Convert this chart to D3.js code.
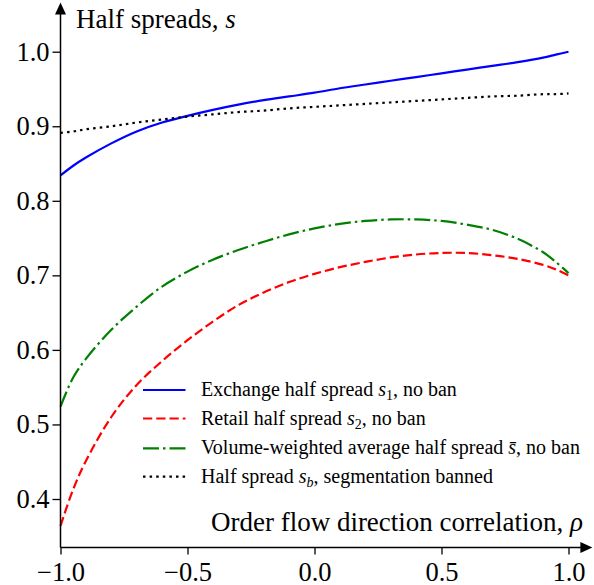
<!DOCTYPE html>
<html>
<head>
<meta charset="utf-8">
<script src="https://cdn.jsdelivr.net/npm/d3@7"></script>
<style>
  body { margin:0; background:#fff; }
  svg text { font-family: "Liberation Serif", "Times New Roman", Tinos, "DejaVu Serif", serif; fill:#000; }
</style>
</head>
<body>
<div class="viz"></div>
<script>
// values
var rho = [-1, -0.95, -0.9, -0.8, -0.7, -0.6, -0.5, -0.4, -0.3, -0.2, -0.1, 0,
           0.1, 0.2, 0.3, 0.4, 0.5, 0.6, 0.7, 0.8, 0.9, 0.95, 1]

var s1 = [0.834, 0.847, 0.858, 0.877, 0.893, 0.905, 0.914, 0.922, 0.929, 0.935, 0.940, 0.945,
          0.951, 0.956, 0.961, 0.966, 0.971, 0.976, 0.981, 0.986, 0.992, 0.996, 1.000]

var s2 = [0.364, 0.413, 0.451, 0.510, 0.553, 0.585, 0.613, 0.638, 0.660, 0.677, 0.691, 0.702,
          0.711, 0.718, 0.724, 0.728, 0.730, 0.730, 0.727, 0.722, 0.714, 0.708, 0.700]

var sbar = [0.524, 0.563, 0.588, 0.627, 0.658, 0.685, 0.705, 0.721, 0.734, 0.745, 0.755, 0.763,
            0.769, 0.773, 0.775, 0.775, 0.773, 0.768, 0.761, 0.749, 0.731, 0.718, 0.703]

var sb = [0.891, 0.893, 0.896, 0.900, 0.905, 0.909, 0.913, 0.916, 0.919, 0.921, 0.924, 0.926,
          0.928, 0.930, 0.932, 0.934, 0.936, 0.938, 0.940, 0.941, 0.943, 0.943, 0.944]

var xTicks = [-1.0, -0.5, 0.0, 0.5, 1.0]
var yTicks = [0.4, 0.5, 0.6, 0.7, 0.8, 0.9, 1.0]

var seriesNames = ["s1", "s2", "sbar", "sb"]

var width = 594, height = 585
var serif = '"Liberation Serif", "Times New Roman", Tinos, "DejaVu Serif", serif'

var x = d3.scaleLinear().domain([-1, 1]).range([60.5, 568.5])
var y = d3.scaleLinear().domain([0.4, 1.0]).range([499, 51.7])

// axis limits (arrows go a bit past the data)
var xMax = 1.094, yMin = 0.335, yMax = 1.066

var svg = d3.select(".viz")
            .append("svg")
            .attr("width", width)
            .attr("height", height)
            .attr("font-family", serif)

var lw = 2.2
var styles = {
  s1:   {color:"#0000ff", dash:null},
  s2:   {color:"#ff0000", dash:[9.25, 4].join(",")},
  sbar: {color:"#008000", dash:[16, 4, 2.5, 4].join(",")},
  sb:   {color:"#000000", dash:[2.5, 4.1].join(",")}
}

var dataBySeries = {s1:s1, s2:s2, sbar:sbar, sb:sb}

var line = d3.line()
    .x(function(d){ return x(d[0]) })
    .y(function(d){ return y(d[1]) })
    .curve(d3.curveCatmullRom.alpha(0.5))

// draw order: s1, s2, sbar, sb
seriesNames.forEach(function(k){
  var pts = rho.map(function(r, i){ return [r, dataBySeries[k][i]] })
  svg.append("path")
     .datum(pts)
     .attr("d", line)
     .attr("fill", "none")
     .attr("stroke", styles[k].color)
     .attr("stroke-width", lw)
     .attr("stroke-dasharray", styles[k].dash)
})

//axes
var fmt = d3.format(".1f")

var gy = svg.append("g")
    .attr("transform", "translate(" + x(-1) + ",0)")
    .call(d3.axisLeft(y).tickValues(yTicks).tickSize(8).tickPadding(3).tickFormat(fmt))
gy.select(".domain").remove()

var gx = svg.append("g")
    .attr("transform", "translate(0," + y(yMin) + ")")
    .call(d3.axisBottom(x).tickValues(xTicks).tickSize(7).tickPadding(8).tickFormat(fmt))
gx.select(".domain").remove()

svg.selectAll("g").attr("font-family", serif)
svg.selectAll(".tick line").attr("stroke", "#000").attr("stroke-width", 1.3)
svg.selectAll(".tick text")
   .style("font-family", serif)
   .style("font-size", "26.5px")
   .attr("fill", "#000")

// axis spines with arrow heads
svg.append("line")
   .attr("x1", x(-1)).attr("x2", x(-1))
   .attr("y1", y(yMin)).attr("y2", y(yMax) + 8)
   .attr("stroke", "#000").attr("stroke-width", 1.5)
svg.append("line")
   .attr("x1", x(-1)).attr("x2", x(xMax) - 8)
   .attr("y1", y(yMin)).attr("y2", y(yMin))
   .attr("stroke", "#000").attr("stroke-width", 1.5)

var tipY = [x(-1), y(yMax)]
svg.append("path")
   .attr("d", "M" + tipY[0] + "," + tipY[1] + "L" + (tipY[0] + 5.5) + "," + (tipY[1] + 12) +
              "L" + (tipY[0] - 5.5) + "," + (tipY[1] + 12) + "Z")
   .attr("fill", "#000")
var tipX = [x(xMax), y(yMin)]
svg.append("path")
   .attr("d", "M" + tipX[0] + "," + tipX[1] + "L" + (tipX[0] - 12) + "," + (tipX[1] - 5.5) +
              "L" + (tipX[0] - 12) + "," + (tipX[1] + 5.5) + "Z")
   .attr("fill", "#000")

// axis titles
var yt = svg.append("text")
   .attr("x", 76).attr("y", 28)
   .style("font-family", serif)
   .style("font-size", "27px")
yt.append("tspan").text("Half spreads, ")
yt.append("tspan").style("font-style", "italic").text("s")

var xt = svg.append("text")
   .attr("x", 583).attr("y", 531)
   .attr("text-anchor", "end")
   .style("font-family", serif)
   .style("font-size", "27px")
xt.append("tspan").text("Order flow direction correlation, ")
xt.append("tspan").style("font-style", "italic").text("ρ")

// legend
var legend = svg.append("g").attr("class", "legend")
var legY = [390, 418.5, 448.3, 476.7]
var legFont = 20

var legendParts = [
  [["Exchange half spread ", ""], ["s", "i"], ["1", "sub"], [", no ban", "up"]],
  [["Retail half spread ", ""], ["s", "i"], ["2", "sub"], [", no ban", "up"]],
  [["Volume-weighted average half spread ", ""], ["s\u0304", "i"], [", no ban", ""]],
  [["Half spread ", ""], ["s", "i"], ["b", "isub"], [", segmentation banned", "up"]]
]

seriesNames.forEach(function(k, i){
  legend.append("line")
     .attr("x1", 143).attr("x2", 185.5)
     .attr("y1", legY[i]).attr("y2", legY[i])
     .attr("stroke", styles[k].color)
     .attr("stroke-width", lw)
     .attr("stroke-dasharray", styles[k].dash)

  var t = legend.append("text")
     .attr("x", 201).attr("y", legY[i] + 6)
     .style("font-family", serif)
     .style("font-size", legFont + "px")
  legendParts[i].forEach(function(p){
    var ts = t.append("tspan").text(p[0])
    if (p[1] === "i") ts.style("font-style", "italic")
    if (p[1] === "sub" || p[1] === "isub") {
      ts.attr("dy", 4).style("font-size", (legFont * 0.7) + "px")
      if (p[1] === "isub") ts.style("font-style", "italic")
    }
    if (p[1] === "up") ts.attr("dy", -4) // back up after the subscript
  })
})
</script>
</body>
</html>
